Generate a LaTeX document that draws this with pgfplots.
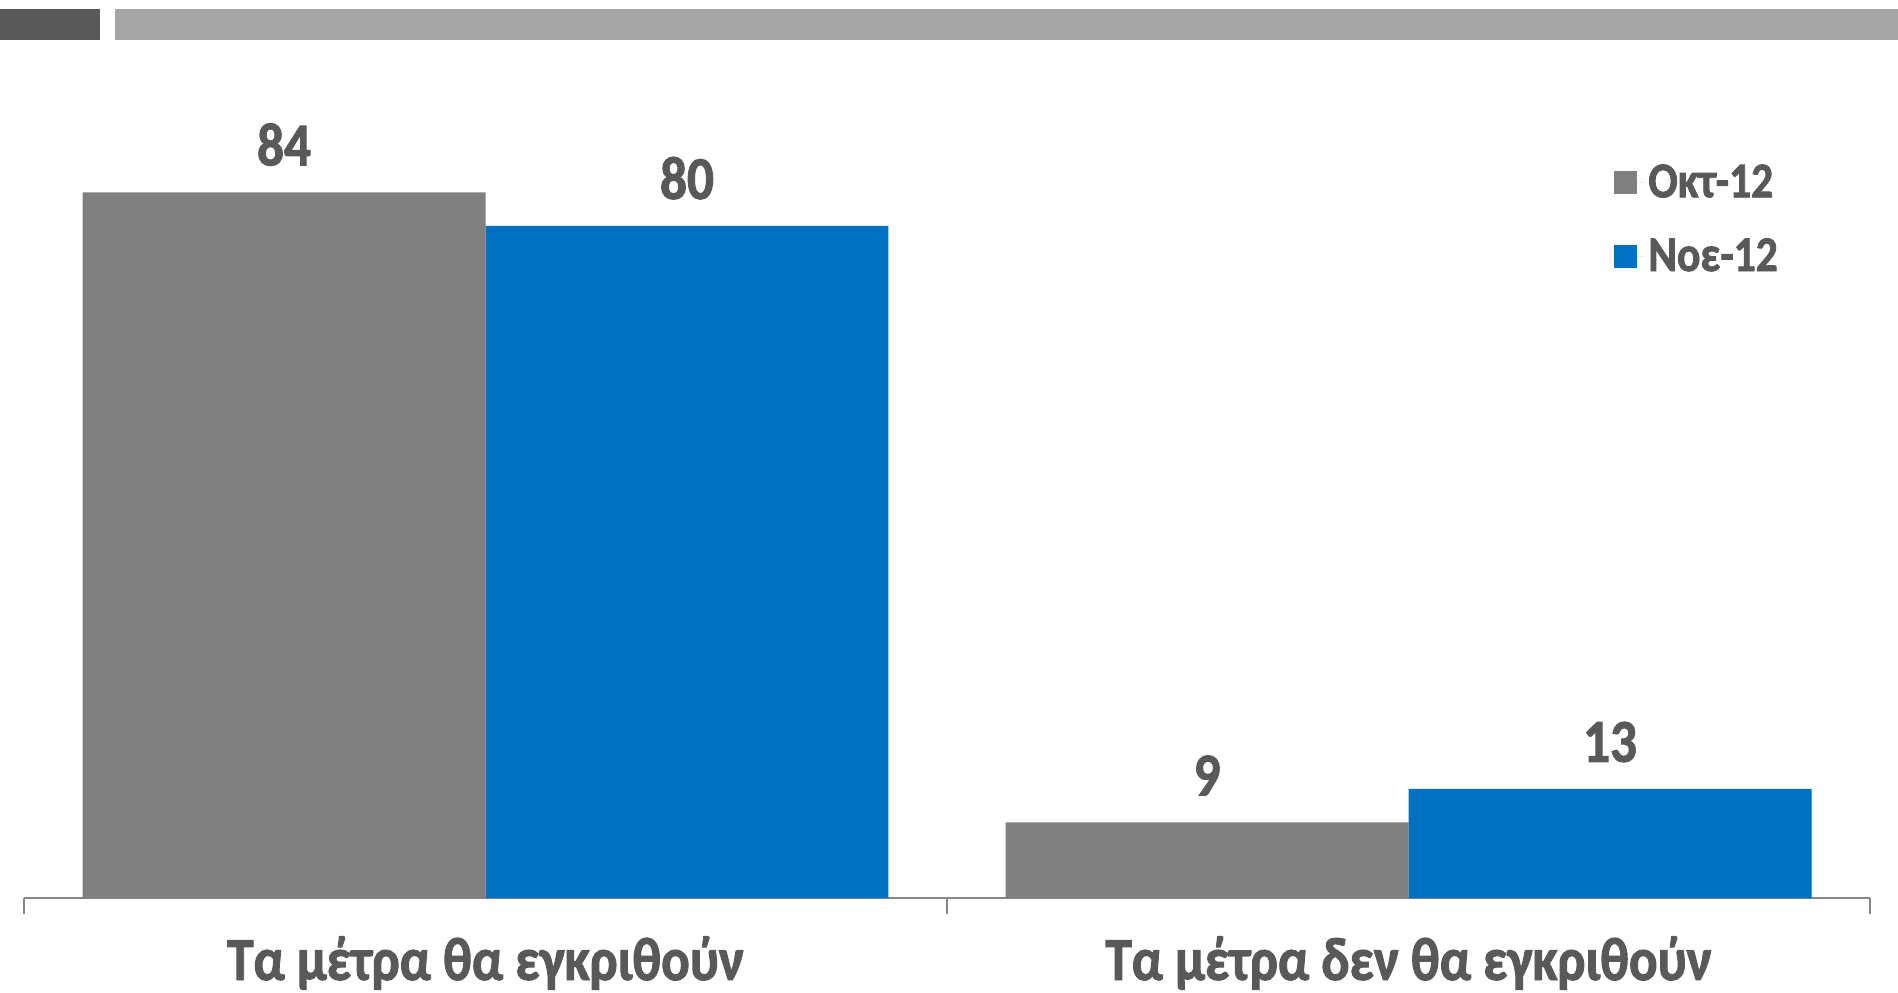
\documentclass[border=0pt]{standalone}
\usepackage{fontspec}
\setmainfont{Carlito}
\newfontfamily\lbl{Carlito}[FakeStretch=0.87, BoldFeatures={FakeBold=1.6}]
\usepackage{pgfplots}
\pgfplotsset{compat=1.18}
\definecolor{txt}{HTML}{595959}
\definecolor{bargray}{HTML}{808080}
\definecolor{barblue}{HTML}{0070C0}
\definecolor{axgray}{HTML}{868686}
\definecolor{topdark}{HTML}{595959}
\definecolor{toplight}{HTML}{A6A6A6}
\begin{document}
\begin{tikzpicture}
\useasboundingbox (0,0) rectangle (949pt,496pt);
\fill[topdark] (0pt,476pt) rectangle (50pt,491.5pt);
\fill[toplight] (57.5pt,476pt) rectangle (949pt,491.5pt);
\begin{axis}[
  at={(12pt,47pt)}, anchor=south west,
  scale only axis, width=923pt, height=420pt,
  xmin=-0.5, xmax=1.5, ymin=0, ymax=100,
  ybar, bar width=0.4366,
  axis y line=none,
  axis x line*=bottom,
  x axis line style={-, draw=axgray, line width=1.2pt},
  xtick={0,1},
  xticklabels={Τα μέτρα θα εγκριθούν, Τα μέτρα δεν θα εγκριθούν},
  major tick length=0pt,
  major x tick style={draw=none},
  minor xtick={-0.5,0.5,1.5},
  minor x tick style={draw=axgray, line width=1pt},
  minor tick length=8pt,
  tick align=outside,
  xticklabel style={font=\lbl\fontsize{30.5}{36}\selectfont\bfseries, text=txt, anchor=base, yshift=-41pt},
  nodes near coords,
  /pgf/number format/assume math mode=true,
  every node near coord/.append style={font=\lbl\fontsize{30.5}{36}\selectfont\bfseries, text=txt, anchor=base, yshift=13.5pt, inner sep=0pt},
  clip=false,
  legend style={at={(rel axis cs:0.8613,0.808)}, anchor=west, draw=none, fill=none, inner sep=0pt, row sep=15pt,
    nodes={font=\lbl\fontsize{25}{30}\selectfont\bfseries, text=txt}},
  legend cell align=left,
  legend image code/.code={\fill[#1] (0pt,-5.75pt) rectangle (11.5pt,5.75pt); \path (0pt,0pt) -- (15pt,0pt);},
]
\addplot[fill=bargray, draw=none, bar shift=-0.2183] coordinates {(0,84) (1,9)};
\addplot[fill=barblue, draw=none, bar shift=0.2183] coordinates {(0,80) (1,13)};
\legend{Οκτ-12, Νοε-12}
\end{axis}
\end{tikzpicture}
\end{document}
